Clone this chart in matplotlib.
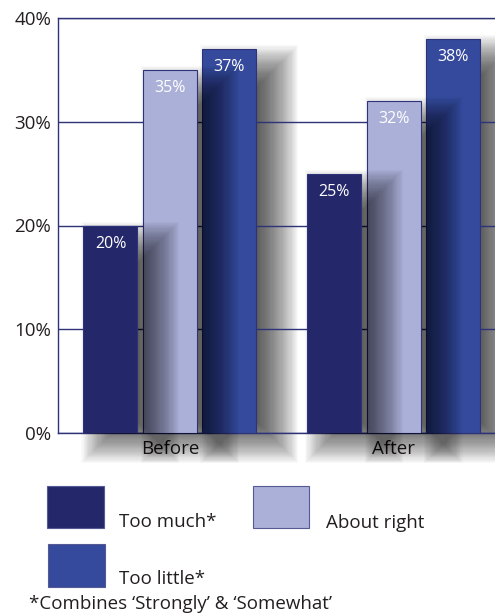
import matplotlib.pyplot as plt
import numpy as np

plt.rcParams['font.family'] = ['Open Sans', 'DejaVu Sans']

groups = ['Before', 'After']
series = ['Too much*', 'About right', 'Too little*']
values = {
    'Too much*': [20, 25],
    'About right': [35, 32],
    'Too little*': [37, 38],
}
colors = ['#24276A', '#ABB0D8', '#354A9C']
yticks = [0, 10, 20, 30, 40]
ytick_labels = ['0%', '10%', '20%', '30%', '40%']
footnote = '*Combines \u2018Strongly\u2019 & \u2018Somewhat\u2019'

W, H = 495, 615
navy = '#2E3278'
txt = '#231F20'

fig = plt.figure(figsize=(W / 100, H / 100), dpi=100)
ax = fig.add_axes([58 / W, (H - 433) / H, (W - 58) / W, (433 - 18) / H])
xmin, xmax = -0.5011, 1.4541
ax.set_xlim(xmin, xmax)
ax.set_ylim(0, 40)

px_x = (xmax - xmin) / (W - 58)
px_y = 40 / (433 - 18)

x = np.arange(len(groups))
offset = 59.5 * px_x
width = 54 * px_x

# soft drop shadow: stacked translucent boxes, each a bit bigger
n_layers = 40
blur = 22
a = 1 - (1 - 0.62) ** (1 / n_layers)
ox = 20          # shift right (px)
top_drop = 18    # shadow top sits this far below bar top
bot_drop = 8     # shadow bottom sits this far below the axis
for i, name in enumerate(series):
    h = np.array(values[name], dtype=float)
    xc = x + (i - 1) * offset
    z_bar = 4 - i
    core_h = h + (bot_drop - top_drop) * px_y
    for e in np.linspace(-blur, blur, n_layers):
        ax.bar(xc + ox * px_x, core_h + 2 * e * px_y, width=width + 2 * e * px_x,
               bottom=-(bot_drop + e) * px_y, color='black', alpha=a, linewidth=0,
               zorder=z_bar - 0.5 if i < 2 else 1, clip_on=False)
    ax.bar(xc, h, width=width, color=colors[i], edgecolor=navy, linewidth=0.8,
           zorder=z_bar)
    for xi, hi in zip(xc, h):
        ax.annotate(f'{hi:.0f}%', (xi, hi), xytext=(0, -18), textcoords='offset pixels',
                    ha='center', va='center', color='white', fontsize=11.5, zorder=10)

ax.set_axisbelow('line')
ax.yaxis.grid(True, color=navy, linewidth=1.0)
ax.set_yticks(yticks)
ax.set_yticklabels(ytick_labels)
ax.set_xticks(x)
ax.set_xticklabels(groups)
ax.tick_params(length=0, labelsize=13.5, labelcolor=txt)
ax.tick_params(axis='y', pad=5)
ax.tick_params(axis='x', pad=5)
ax.spines['right'].set_visible(False)
for s in ['left', 'top', 'bottom']:
    ax.spines[s].set_color(navy)
    ax.spines[s].set_linewidth(1.0)
    ax.spines[s].set_zorder(6 if s != 'bottom' else 1.5)


def fx(px):
    return px / W


def fy(py):
    return 1 - py / H


legend_boxes = [(47, 486, 104, 528), (253, 486, 309, 528), (48, 544, 105, 587)]
legend_text = [(119, 527), (326, 528), (119, 584)]
for (x0, y0, x1, y1), (tx, ty), name, c in zip(legend_boxes, legend_text, series, colors):
    fig.add_artist(plt.Rectangle((fx(x0), fy(y1)), fx(x1 - x0), (y1 - y0) / H,
                                 facecolor=c, edgecolor='#555A94', linewidth=0.8,
                                 transform=fig.transFigure))
    fig.text(fx(tx), fy(ty), name, fontsize=13.5, color=txt, va='baseline', ha='left')

fig.text(fx(29), fy(609), footnote, fontsize=13.5, color=txt, va='baseline', ha='left')

fig.savefig('out.png', dpi=100)
